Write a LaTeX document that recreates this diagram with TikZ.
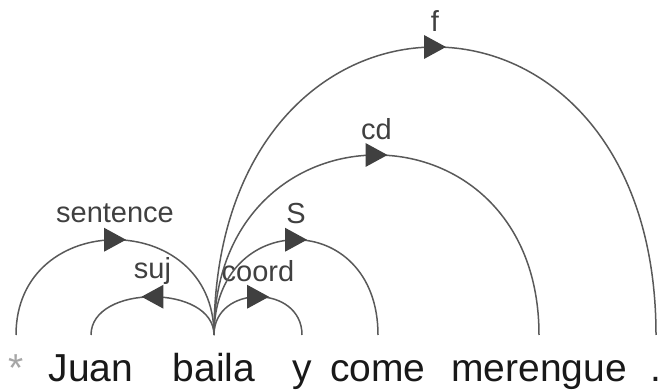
\documentclass[tikz,border=0pt]{standalone}
\usepackage{fontspec}
\setmainfont{Liberation Sans}
\usetikzlibrary{decorations.markings}
\begin{document}
\begin{tikzpicture}[x=1pt,y=1pt,
    word/.style={font=\fontsize{39}{39}\selectfont,text=black!90,inner sep=0pt,text height=33pt,text depth=4pt,outer ysep=14pt,anchor=base},
    lbl/.style={font=\fontsize{29}{29}\selectfont,text=black!75,midway,yshift=26pt},
    dep/.style={line width=1.5pt,draw=black!65,postaction={decorate},
        decoration={markings,mark=at position 0.5 with {\fill[black!75](-11pt,-12pt)--(11pt,0pt)--(-11pt,12pt)--cycle;}}}]
    \useasboundingbox (0,0) rectangle (663,390);
    \node[word,text=black!35] (root) at (16,8) {*};
    \node[word] (juan) at (91,8) {Juan};
    \node[word] (baila) at (214,8) {baila};
    \node[word] (y) at (302,8) {y};
    \node[word] (come) at (378,8) {come};
    \node[word] (merengue) at (539,8) {merengue};
    \node[word] (dot) at (656,8) {.};
    \draw[dep] (root.north) .. controls +(0,127) and +(0,127) .. (baila.north) node[lbl]{sentence};
    \draw[dep] (baila.north) .. controls +(0,51) and +(0,51) .. (juan.north) node[lbl]{suj};
    \draw[dep] (baila.north) .. controls +(0,51) and +(0,51) .. (y.north) node[lbl]{coord};
    \draw[dep] (baila.north) .. controls +(0,127) and +(0,127) .. (come.north) node[lbl]{S};
    \draw[dep] (baila.north) .. controls +(0,240) and +(0,240) .. (merengue.north) node[lbl]{cd};
    \draw[dep] (baila.north) .. controls +(0,384) and +(0,384) .. (dot.north) node[lbl]{f};
\end{tikzpicture}
\end{document}
